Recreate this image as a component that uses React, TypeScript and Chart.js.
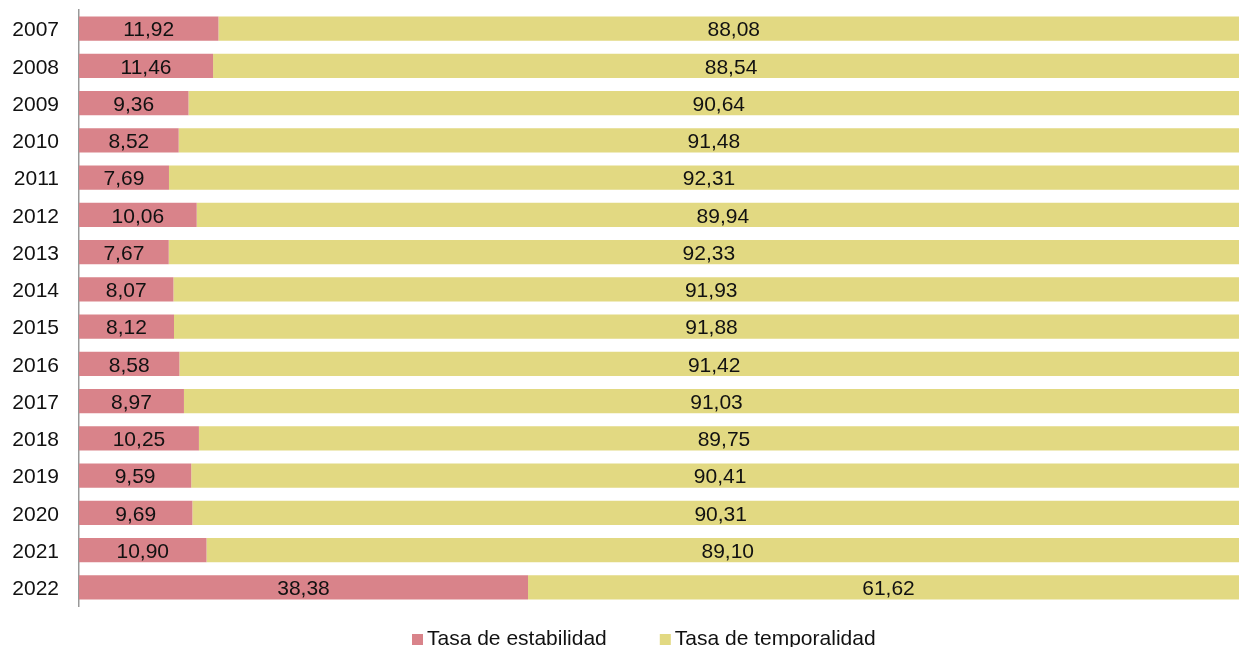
import React, { useEffect, useRef } from "react";
import { Chart, registerables } from "chart.js";

Chart.register(...registerables);

const years = ["2007","2008","2009","2010","2011","2012","2013","2014","2015","2016","2017","2018","2019","2020","2021","2022"];
const estabilidad = [11.92,11.46,9.36,8.52,7.69,10.06,7.67,8.07,8.12,8.58,8.97,10.25,9.59,9.69,10.90,38.38];
const temporalidad = [88.08,88.54,90.64,91.48,92.31,89.94,92.33,91.93,91.88,91.42,91.03,89.75,90.41,90.31,89.10,61.62];
const seriesNames = ["Tasa de estabilidad", "Tasa de temporalidad"];
const colors = ["#D9838A", "#E2D982"];

const FONT = '"Liberation Sans", Arial, sans-serif';

const fmt = (v: number) => v.toFixed(2).replace(".", ",");

const labelsPlugin = {
  id: "barLabels",
  afterDatasetsDraw(chart: any) {
    const ctx = chart.ctx;
    ctx.save();
    ctx.font = `21px ${FONT}`;
    ctx.fillStyle = "#111";
    ctx.textAlign = "center";
    ctx.textBaseline = "middle";
    chart.data.datasets.forEach((ds: any, di: number) => {
      const meta = chart.getDatasetMeta(di);
      meta.data.forEach((el: any, i: number) => {
        const p = el.getProps(["x", "y", "base"], true);
        ctx.fillText(fmt(ds.data[i]), (p.x + p.base) / 2, p.y + 2);
      });
    });
    ctx.restore();
  },
};

const legendPlugin = {
  id: "customLegend",
  afterDraw(chart: any) {
    const ctx = chart.ctx;
    ctx.save();
    ctx.font = `21px ${FONT}`;
    ctx.textBaseline = "alphabetic";
    ctx.textAlign = "left";
    let x = 412;
    const baseline = 645;
    seriesNames.forEach((name, i) => {
      ctx.fillStyle = colors[i];
      ctx.fillRect(x, 634, 11, 11);
      ctx.fillStyle = "#111";
      ctx.fillText(name, x + 15, baseline);
      x += 15 + ctx.measureText(name).width + 53;
    });
    ctx.restore();
  },
};

export default function App() {
  const ref = useRef<HTMLCanvasElement>(null);
  useEffect(() => {
    document.body.style.margin = "0";
    const chart = new Chart(ref.current!, {
      type: "bar",
      data: {
        labels: years,
        datasets: [
          { label: seriesNames[0], data: estabilidad, backgroundColor: colors[0], barPercentage: 0.653, categoryPercentage: 1 },
          { label: seriesNames[1], data: temporalidad, backgroundColor: colors[1], barPercentage: 0.653, categoryPercentage: 1 },
        ],
      },
      options: {
        indexAxis: "y",
        animation: false,
        responsive: false,
        maintainAspectRatio: false,
        layout: { padding: { top: 10, bottom: 41, left: 0, right: 0 } },
        plugins: { legend: { display: false }, tooltip: { enabled: false } },
        scales: {
          x: { stacked: true, min: 0, max: 100, display: false },
          y: {
            stacked: true,
            grid: { display: false, drawTicks: false },
            border: { display: true, color: "#999999", width: 1.5 },
            ticks: { color: "#111", font: { family: FONT, size: 21 }, padding: 20, labelOffset: 2 },
            afterFit: (s: any) => { s.width = 79; s.paddingTop = 0; s.paddingBottom = 0; },
          },
        },
      },
      plugins: [labelsPlugin, legendPlugin],
    });
    return () => chart.destroy();
  }, []);
  return (
    <div style={{ width: 1239, height: 647, overflow: "hidden" }}>
      <canvas ref={ref} width={1249} height={647} style={{ display: "block" }} />
    </div>
  );
}
